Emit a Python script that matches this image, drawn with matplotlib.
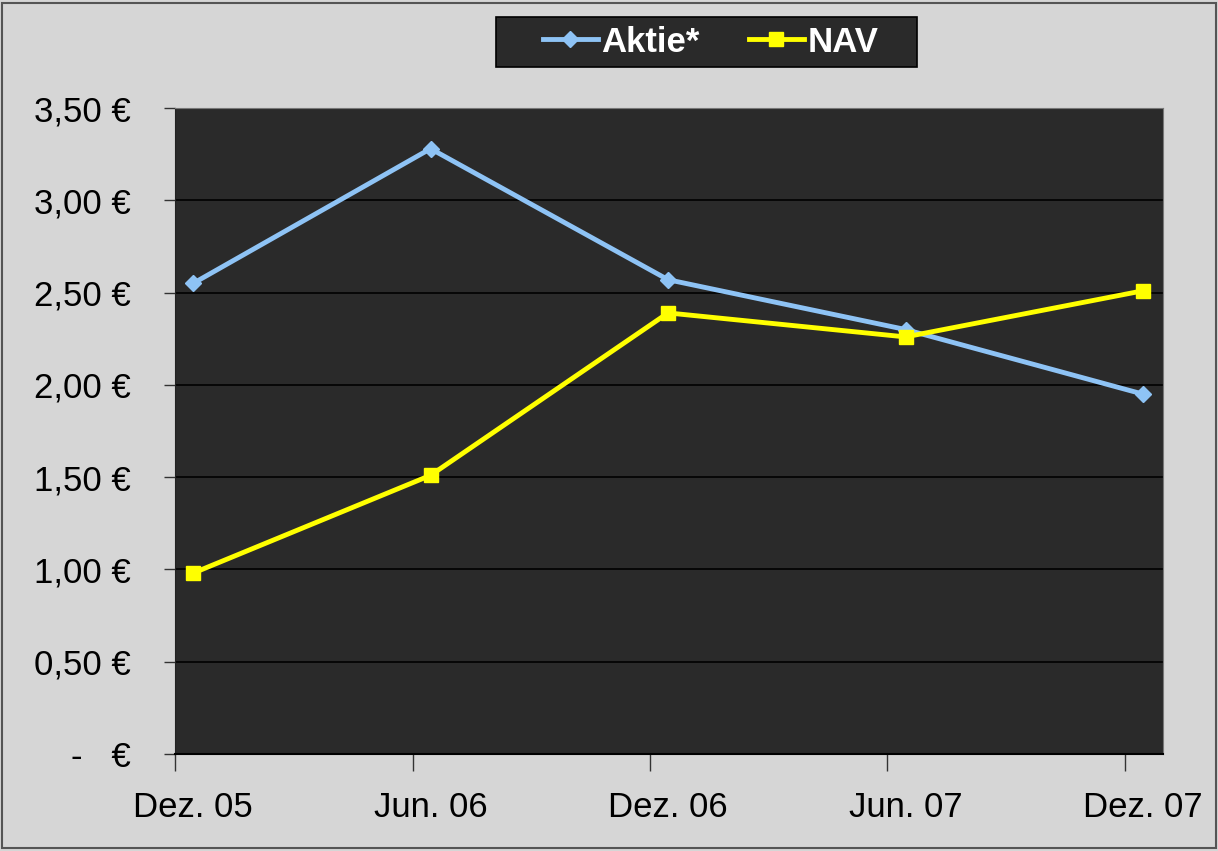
import matplotlib

matplotlib.use("Agg")
import matplotlib.pyplot as plt
from matplotlib.patches import Rectangle

plt.rcParams['font.family'] = ['Liberation Sans', 'DejaVu Sans']

# data
periods = ["Dez. 05", "Jun. 06", "Dez. 06", "Jun. 07", "Dez. 07"]
aktie = [2.55, 3.28, 2.57, 2.30, 1.95]
nav = [0.98, 1.51, 2.39, 2.26, 2.51]
y_ticks = [0, 0.5, 1.0, 1.5, 2.0, 2.5, 3.0, 3.5]


def euro(v):
    # Excel accounting style: zero shows as a dash
    if v == 0:
        return "-   €"
    return f"{v:.2f}".replace(".", ",") + " €"


fig = plt.figure(figsize=(12.18, 8.51), dpi=100)
fig.patch.set_facecolor("#d6d6d6")
fig.patches.append(Rectangle((0.002, 0.004), 0.996, 0.992, transform=fig.transFigure,
                             fill=False, edgecolor="#555555", linewidth=1.5))

ax = fig.add_axes([0.1437, 0.114, 0.8111, 0.759])
ax.set_facecolor("#2a2a2a")

x = list(range(len(periods)))
ax.plot(x, aktie, color="#8ec3f5", lw=3.5, marker="D", markersize=8, label="Aktie*", zorder=3)
ax.plot(x, nav, color="#ffff00", lw=3.5, marker="s", markersize=10, label="NAV", zorder=3)

off = 0.076
ax.set_xlim(-off, 4.084)
ax.set_ylim(0, 3.5)

ax.set_yticks(y_ticks)
ax.set_yticklabels([euro(v) for v in y_ticks], fontsize=25)
ax.yaxis.grid(True, color="black", lw=1.2)
ax.set_axisbelow(True)
ax.tick_params(axis="y", length=8, width=1, color="#333333", pad=24)

# labels centred on the points, tick marks at the period boundaries
ax.set_xticks(x)
ax.set_xticklabels(periods, fontsize=25)
ax.tick_params(axis="x", which="major", length=0, pad=27)
ax.set_xticks([i - off for i in x], minor=True)
ax.tick_params(axis="x", which="minor", length=12, width=1, color="#333333")

for side in ["top", "right"]:
    ax.spines[side].set_color("#777777")
ax.spines["left"].set_color("#222222")
ax.spines["bottom"].set_color("black")
ax.spines["bottom"].set_linewidth(1.5)

# legend box drawn separately so it can be wider than its content
fig.patches.append(Rectangle((0.4072, 0.9213), 0.3457, 0.0588, transform=fig.transFigure,
                             facecolor="#2a2a2a", edgecolor="black", linewidth=1.2))
leg = fig.legend(loc="center", bbox_to_anchor=(0.5833, 0.9506), ncol=2, frameon=False,
                 prop={"size": 25, "weight": "bold"}, handlelength=1.6,
                 handletextpad=0.1, columnspacing=1.4, borderpad=0.25)
for t in leg.get_texts():
    t.set_color("white")

fig.savefig("out.png", dpi=100, facecolor=fig.get_facecolor())
